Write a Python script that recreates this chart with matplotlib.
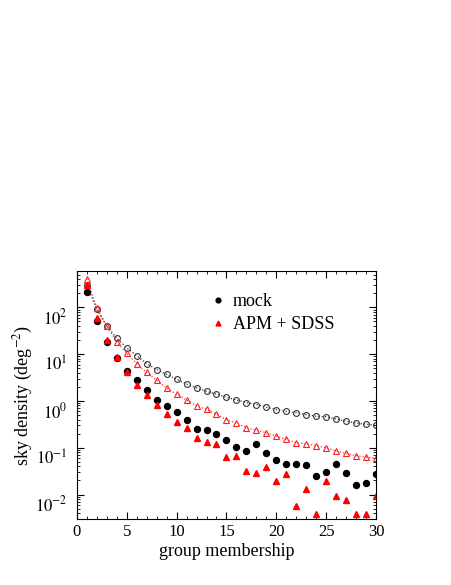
import numpy as np
import matplotlib
import matplotlib.pyplot as plt
import matplotlib.transforms as mtransforms

matplotlib.use('Agg')

plt.rcParams['font.family'] = ['Liberation Serif', 'DejaVu Serif']
plt.rcParams['mathtext.fontset'] = 'stix'

# group membership
members = np.arange(1, 31)

# mock, filled circles
mock = [218, 50, 18.6, 8.4, 4.3, 2.75, 1.7, 1.05, 0.79, 0.58,
        0.39, 0.25, 0.24, 0.197, 0.15, 0.106, 0.084, 0.12, 0.077, 0.054,
        0.046, 0.046, 0.043, 0.025, 0.031, 0.044, 0.029, 0.016, 0.0176, 0.027]

# APM + SDSS, filled triangles
apm = [300, 60, 20, 8.5, 4.2, 2.2, 1.33, 0.83, 0.52, 0.35,
       0.27, 0.16, 0.136, 0.123, 0.064, 0.066, 0.032, 0.029, 0.038, 0.0195,
       0.027, 0.0058, 0.013, 0.0039, 0.0195, 0.0094, 0.0078, 0.0039, 0.0039, 0.0094]

# open circles (mock, upper curve)
mock_open = [300, 91, 40, 22, 13.7, 9.3, 6.3, 4.7, 3.7, 2.9,
             2.3, 1.9, 1.6, 1.4, 1.2, 1.05, 0.92, 0.84, 0.735, 0.655,
             0.6, 0.56, 0.51, 0.47, 0.46, 0.41, 0.37, 0.335, 0.32, 0.30]

# open triangles (APM + SDSS, upper curve)
apm_open = [410, 98, 40, 18.5, 10.4, 6.3, 4.1, 2.75, 1.9, 1.4,
            1.05, 0.79, 0.66, 0.52, 0.40, 0.335, 0.27, 0.237, 0.21, 0.176,
            0.152, 0.126, 0.123, 0.11, 0.10, 0.085, 0.076, 0.068, 0.063, 0.060]

ytick_vals = [1e-2, 1e-1, 1e0, 1e1, 1e2]
ytick_labels = ['$10^{-2}$', '$10^{-1}$', '$10^{0}$', '$10^{1}$', '$10^{2}$']

fig = plt.figure(figsize=(4.52, 5.85), dpi=100)
ax = fig.add_axes([0.170, 0.1128, 0.662, 0.424])

ax.plot(members, mock_open, linestyle=':', color='#333333', linewidth=0.9,
        marker='o', markersize=4.2, markerfacecolor='none',
        markeredgecolor='#333333', markeredgewidth=0.8)
ax.plot(members, apm_open, linestyle=':', color='#ff3030', linewidth=0.9,
        marker='^', markersize=4.6, markerfacecolor='none',
        markeredgecolor='#ff2020', markeredgewidth=0.8)
ax.plot(members, mock, linestyle='none', marker='o', markersize=4.3,
        color='black', label='mock')
ax.plot(members, apm, linestyle='none', marker='^', markersize=4.4,
        color='red', label='APM + SDSS')

ax.set_yscale('log')
ax.set_xlim(0, 30)
ax.set_ylim(3e-3, 600)
ax.set_xticks(np.arange(0, 31, 5))
ax.set_xticks(np.arange(0, 31, 1), minor=True)
ax.set_yticks(ytick_vals, ytick_labels)
ax.tick_params(which='both', direction='in', top=True, right=True,
               labelsize=12)
ax.tick_params(which='major', length=5)
ax.tick_params(which='minor', length=2.5)
ax.tick_params(axis='y', which='major', pad=7)

# y labels sit a bit below their ticks in the original
shift = mtransforms.ScaledTranslation(0, -0.09, fig.dpi_scale_trans)
for lab in ax.get_yticklabels():
    lab.set_transform(lab.get_transform() + shift)

ax.set_xlabel('group membership', fontsize=13, labelpad=2)
ax.set_ylabel('sky density (deg$^{-2}$)', fontsize=13, labelpad=0)

ax.legend(loc='upper left', bbox_to_anchor=(0.40, 0.975), frameon=False,
          fontsize=13, handlelength=0.6, handletextpad=0.5, labelspacing=0.3,
          markerscale=0.8)

fig.savefig('out.png', dpi=100)
